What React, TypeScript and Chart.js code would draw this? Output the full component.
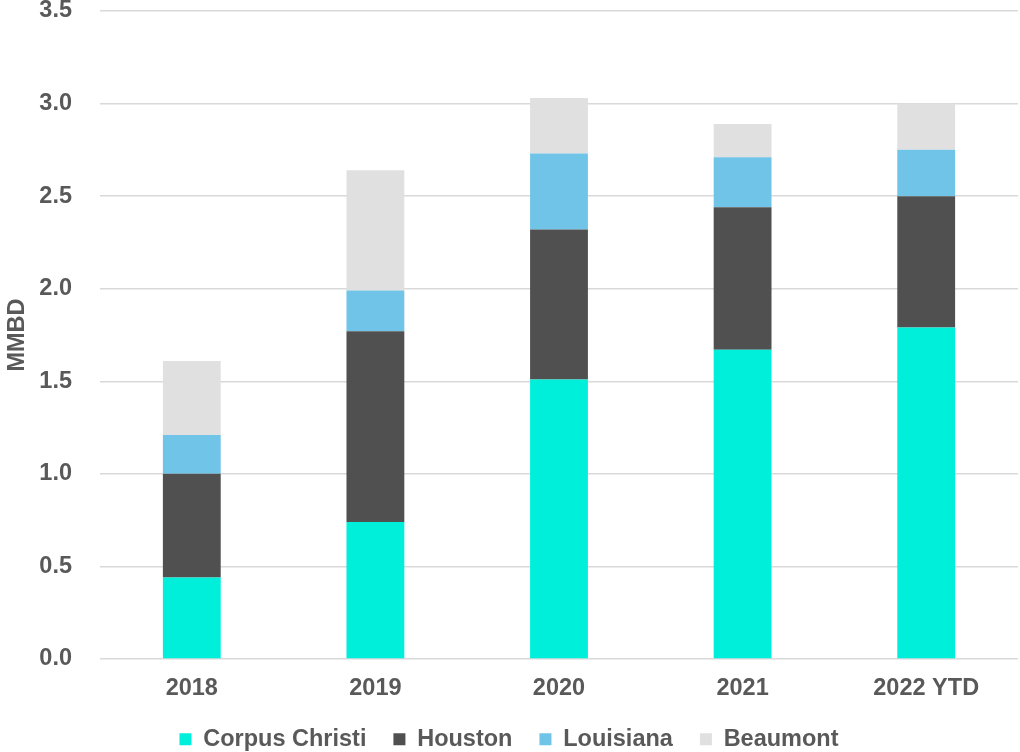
import React, { useEffect, useRef } from "react";
import { Chart, registerables } from "chart.js";

Chart.register(...registerables);

const categories = ["2018", "2019", "2020", "2021", "2022 YTD"];
const corpusChristi = [0.44, 0.74, 1.51, 1.67, 1.79];
const houston = [0.56, 1.03, 0.81, 0.77, 0.71];
const louisiana = [0.21, 0.22, 0.41, 0.27, 0.25];
const beaumont = [0.40, 0.65, 0.30, 0.18, 0.25];
const yTicks = [0, 0.5, 1.0, 1.5, 2.0, 2.5, 3.0, 3.5];

const TEXT = "#595959";
const FONT = "'Liberation Sans', Arial, sans-serif";

export default function App() {
  const ref = useRef<HTMLCanvasElement | null>(null);

  useEffect(() => {
    if (!ref.current) return;
    const chart = new Chart(ref.current, {
      type: "bar",
      data: {
        labels: categories,
        datasets: [
          { label: "Corpus Christi", data: corpusChristi, backgroundColor: "#00EFDB" },
          { label: "Houston", data: houston, backgroundColor: "#505050" },
          { label: "Louisiana", data: louisiana, backgroundColor: "#70C4E8" },
          { label: "Beaumont", data: beaumont, backgroundColor: "#E0E0E0" },
        ],
      },
      options: {
        animation: false,
        responsive: false,
        maintainAspectRatio: false,
        datasets: {
          bar: { categoryPercentage: 1, barPercentage: 0.315 },
        },
        layout: { padding: { top: 0, right: 2, bottom: -9, left: 0 } },
        plugins: {
          tooltip: { enabled: false },
          legend: {
            position: "bottom",
            labels: {
              color: TEXT,
              font: { family: FONT, size: 23.5, weight: "bold", lineHeight: 1.0 },
              boxWidth: 12,
              boxHeight: 12,
              padding: 27,
            },
          },
        },
        scales: {
          x: {
            stacked: true,
            grid: { display: false, drawTicks: false },
            border: { display: false },
            ticks: {
              color: TEXT,
              font: { family: FONT, size: 23.5, weight: "bold", lineHeight: 1.0 },
              padding: 18,
            },
            afterFit: (scale: any) => {
              scale.height = scale.height - 18;
            },
          },
          y: {
            stacked: true,
            min: 0,
            max: 3.5,
            afterBuildTicks: (axis: any) => {
              axis.ticks = yTicks.map((v) => ({ value: v }));
            },
            afterFit: (scale: any) => {
              scale.width = 100;
              scale.paddingTop = 11;
              scale.paddingBottom = 0;
            },
            grid: { color: "#D9D9D9", lineWidth: 1.5, drawTicks: false },
            border: { display: false },
            ticks: {
              color: TEXT,
              font: { family: FONT, size: 23.5, weight: "bold", lineHeight: 1.0 },
              padding: 28,
              callback: (v: any) => Number(v).toFixed(1),
            },
            title: {
              display: true,
              text: "MMBD",
              color: TEXT,
              font: { family: FONT, size: 23.5, weight: "bold", lineHeight: 1.0 },
              padding: { top: 6, bottom: 4 },
            },
          },
        },
      },
    });
    return () => chart.destroy();
  }, []);

  return (
    <div style={{ position: "absolute", left: 0, top: 0, width: 1020, height: 752, background: "#fff" }}>
      <canvas ref={ref} width={1020} height={752} style={{ width: 1020, height: 752 }} />
    </div>
  );
}
